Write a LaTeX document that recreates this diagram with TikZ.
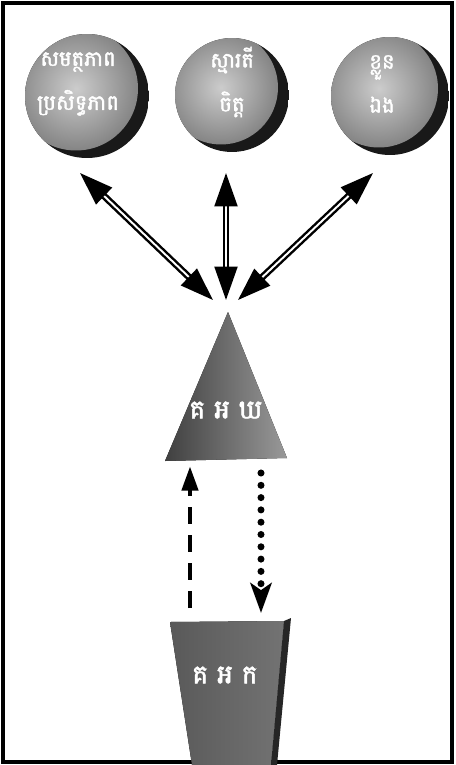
\documentclass[tikz,border=0pt]{standalone}
\usepackage{fontspec}
\newfontfamily\khmer[Script=Khmer,AutoFakeBold=2]{Battambang}
\usetikzlibrary{arrows.meta,calc}
\tikzset{
  ball/.style={circle, minimum size=#1, inner sep=0pt,
    path picture={
      \fill[black!90] (path picture bounding box.south west) rectangle (path picture bounding box.north east);
      \shade[inner color=black!20, outer color=black!48]
        ($(path picture bounding box.center)+(-0.22cm,0.15cm)$) circle (#1/2);
    }},
  khtext/.style={text=white, align=center, font=\khmer\bfseries\fontsize{12}{25}\selectfont},
  bigtext/.style={khtext, font=\khmer\bfseries\fontsize{15}{18}\selectfont},
  twoway/.style={line width=1.4pt, double=white, double distance=1.1pt,
    {Triangle[length=19pt,width=13pt]}-{Triangle[length=19pt,width=13pt]}},
  upline/.style={line width=2.8pt, dash pattern=on 9.5pt off 6.5pt, -{Triangle[length=14pt,width=9pt]}},
  downline/.style={line width=4pt, line cap=round, dash pattern=on 0pt off 7pt, -{Stealth[length=17pt,width=12pt,inset=4pt]}}
}
\begin{document}
\begin{tikzpicture}[x=0.02cm,y=-0.02cm]
    \useasboundingbox (0,0) rectangle (456,765);
    \draw [line width=2.2pt] (3,3) rectangle (452,762);

    \node [ball=2.48cm] (c1) at (87,96) {};
    \node [ball=2.28cm] (c2) at (232,95) {};
    \node [ball=2.36cm] (c3) at (390,96) {};
    \node [khtext] (l1) at (78,84) {សមត្ថភាព\\ប្រសិទ្ធភាព};
    \node [khtext] (l2) at (232,82) {ស្មារតី\\ចិត្ត};
    \node [khtext] (l3) at (382,84) {ខ្លួន\\ឯង};

    \fill [left color=black!75, right color=black!40] (228,312) -- (287,458) -- (165,461) -- cycle;
    \node [bigtext] (tri) at (226,410) {គ អ ឃ};

    \fill [left color=black!65, right color=black!55] (170,622) -- (284,621) -- (271,765) -- (192,765) -- cycle;
    \fill [black!85] (284,621) -- (291,618) -- (277,765) -- (271,765) -- cycle;
    \node [bigtext] (trap) at (225,675) {គ អ ក};

    \coordinate (t1) at (80,173);
    \coordinate (b1) at (213,300);
    \coordinate (t2) at (226,173);
    \coordinate (b2) at (226,300);
    \coordinate (t3) at (373,173);
    \coordinate (b3) at (238,300);
    \draw [twoway] (t1) -- (b1);
    \draw [twoway] (t2) -- (b2);
    \draw [twoway] (t3) -- (b3);

    \coordinate (u1) at (190,608);
    \coordinate (u2) at (190,466);
    \coordinate (d1) at (261,473);
    \coordinate (d2) at (261,613);
    \draw [upline] (u1) -- (u2);
    \draw [downline] (d1) -- (d2);
\end{tikzpicture}
\end{document}
